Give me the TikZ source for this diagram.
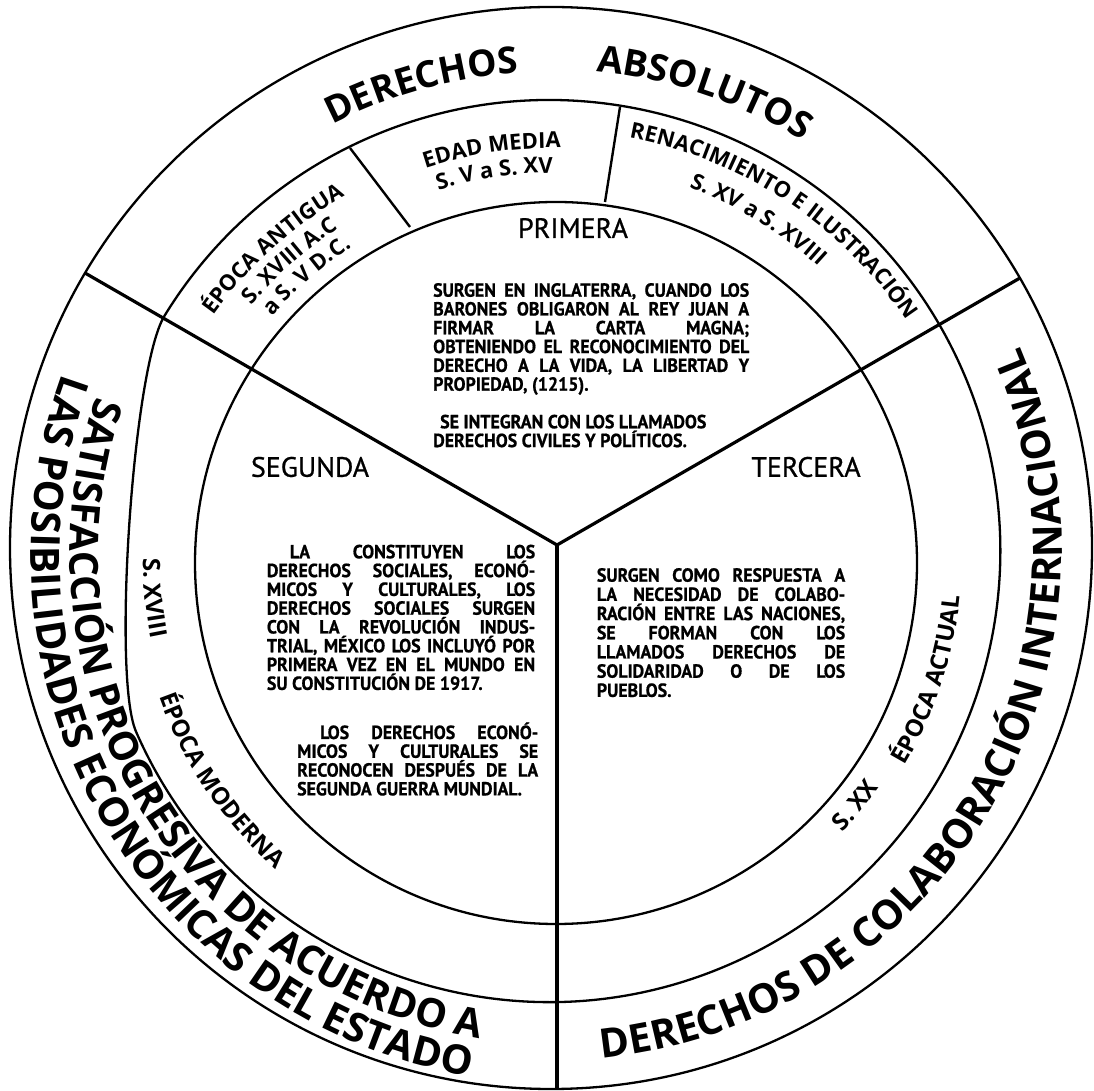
\documentclass[tikz,border=0pt]{standalone}
\usepackage{fontspec}
\setmainfont{PT Sans}
\newfontfamily\ringf{Open Sans}
\newfontfamily\bodyf{PT Sans}[FakeStretch=0.94, BoldFeatures={FakeBold=0.8}]
\newfontfamily\labf{PT Sans}[FakeBold=0.8]
\usetikzlibrary{decorations.text}
\newcommand\ringtop{\ringf\bfseries\fontsize{37}{37}\selectfont}
\newcommand\ringbig{\ringf\bfseries\fontsize{40.5}{40.5}\selectfont}
\newcommand\ringmid{\ringf\bfseries\fontsize{40}{40}\selectfont}
\newcommand\erab{\ringf\bfseries\fontsize{22}{22}\selectfont}
\newcommand\erar{\ringf\bfseries\fontsize{24}{24}\selectfont}
\newcommand\JL[1]{\makebox[\linewidth][s]{#1}\par}
\tikzset{
  circ/.style={line width=2.3pt},
  yline/.style={line width=3.2pt},
  divline/.style={line width=2.4pt},
  toptext/.style={decorate, decoration={text along path, text align=center, text={|\ringtop|#1}}},
  bigtext/.style={decorate, decoration={text along path, text align=center, text={|\ringbig|#1}}},
  midtext/.style={decorate, decoration={text along path, text align=center, text={|\ringmid|#1}}},
  erabtext/.style={decorate, decoration={text along path, text align=center, text={|\erab|#1}}},
  erartext/.style={decorate, decoration={text along path, text align=center, text={|\erar|#1}}},
  lab/.style={inner sep=0, font=\labf\fontsize{28}{28}\selectfont},
  body/.style={inner sep=0, anchor=base west, font=\bodyf\bfseries\fontsize{19}{18.8}\selectfont},
}
\begin{document}
\begin{tikzpicture}[x=1pt,y=1pt]
\fill[white] (0,0) rectangle (1094,1090);
\useasboundingbox (0,0) rectangle (1094,1090);
% centres
\coordinate (O) at (551,542);
\coordinate (M) at (549,539);
\coordinate (I) at (556,527);
\coordinate (C) at (550,541);
\coordinate (CL) at (560,535);
\coordinate (E) at (552,533);
\coordinate (J) at (557,545);
\coordinate (Lend) at (85,817);
\coordinate (Rend) at (1020,812);
\coordinate (Bend) at (557,1);
\coordinate (d1a) at (350,942);
\coordinate (d1b) at (410,863);
\coordinate (d2a) at (620,983);
\coordinate (d2b) at (605,888);
\coordinate (m1) at (136.0,358.4);
% circles
\draw[circ] (O) circle[radius=541];
\draw[circ] (m1) arc[start angle=203.6, end angle=508.6, radius=451]
  .. controls +(238.5:60) and +(113.6:60) .. (m1);
\draw[circ] (I) circle[radius=361];
% Y lines
\draw[yline] (J) -- (Lend);
\draw[yline] (J) -- (Rend);
\draw[yline] (J) -- (Bend);
% era dividers
\draw[divline] (d1a) -- (d1b);
\draw[divline] (d2a) -- (d2b);
% outer ring texts
\path[toptext=DERECHOS] (C) ++(125.45:477) arc[start angle=125.45, end angle=85.45, radius=477];
\path[toptext=ABSOLUTOS] (C) ++(91.35:480) arc[start angle=91.35, end angle=51.35, radius=480];
\path[midtext={SATISFACCIÓN PROGRESIVA DE ACUERDO A}] (CL) ++(140.85:490) arc[start angle=140.85, end angle=280.85, radius=490];
\path[bigtext={LAS POSIBILIDADES ECONÓMICAS DEL ESTADO}] (CL) ++(140.05:529) arc[start angle=140.05, end angle=280.05, radius=529];
\path[bigtext={DERECHOS DE COLABORACIÓN INTERNACIONAL}] (C) ++(-100.45:512) arc[start angle=-100.45, end angle=39.55, radius=512];
% era ring texts
\path[erabtext={ÉPOCA ANTIGUA}] (E) ++(157.2:416) arc[start angle=157.2, end angle=107.2, radius=416];
\path[erabtext={S. XVIII A.C}] (E) ++(156.55:392) arc[start angle=156.55, end angle=106.55, radius=392];
\path[erabtext={a S. V D.C.}] (E) ++(156.1:369) arc[start angle=156.1, end angle=106.1, radius=369];
\path[erabtext={EDAD MEDIA}] (E) ++(123.4:409) arc[start angle=123.4, end angle=73.4, radius=409];
\path[erabtext={S. V a S. XV}] (E) ++(123.55:384) arc[start angle=123.55, end angle=73.55, radius=384];
\path[erabtext={RENACIMIENTO E ILUSTRACIÓN}] (E) ++(91.65:426) arc[start angle=91.65, end angle=21.65, radius=426];
\path[erabtext={S. XV a S. XVIII}] (E) ++(83.55:394) arc[start angle=83.55, end angle=33.55, radius=394];
\path[erartext={S. XVIII}] (E) ++(165.9:409) arc[start angle=165.9, end angle=205.9, radius=409];
\path[erartext={ÉPOCA MODERNA}] (E) ++(184.05:417) arc[start angle=184.05, end angle=244.05, radius=417];
\path[erartext={S. XX}] (E) ++(-59.3:400) arc[start angle=-59.3, end angle=-19.3, radius=400];
\path[erartext={ÉPOCA ACTUAL}] (E) ++(-43.05:410) arc[start angle=-43.05, end angle=6.95, radius=410];
% sector labels
\node[lab] (prim) at (573,862) {PRIMERA};
\node[lab] (seg) at (310,623) {SEGUNDA};
\node[lab] (ter) at (806,623) {TERCERA};
% body texts
\node[body] (primtext) at (433,793.3) {\parbox[t]{316pt}{%
\JL{SURGEN EN INGLATERRA, CUANDO LOS}
\JL{BARONES OBLIGARON AL REY JUAN A}
\JL{FIRMAR LA CARTA MAGNA;}
\JL{OBTENIENDO EL RECONOCIMIENTO DEL}
\JL{DERECHO A LA VIDA, LA LIBERTAD Y}
PROPIEDAD, (1215).\par
\mbox{}\par
\hspace*{7pt}SE INTEGRAN CON LOS LLAMADOS\par
DERECHOS CIVILES Y POLÍTICOS.\par}};
\node[body] (segtext) at (266.7,531.7) {\parbox[t]{268.3pt}{%
\JL{\hspace*{23pt}LA CONSTITUYEN LOS}
\JL{DERECHOS SOCIALES, ECONÓ-}
\JL{MICOS Y CULTURALES, LOS}
\JL{DERECHOS SOCIALES SURGEN}
\JL{CON LA REVOLUCIÓN INDUS-}
\JL{TRIAL, MÉXICO LOS INCLUYÓ POR}
\JL{PRIMERA VEZ EN EL MUNDO EN}
SU CONSTITUCIÓN DE 1917.\par}};
\node[body] (segtext2) at (297,351) {\parbox[t]{241pt}{%
\JL{\hspace*{23pt}LOS DERECHOS ECONÓ-}
\JL{MICOS Y CULTURALES SE}
\JL{RECONOCEN DESPUÉS DE LA}
SEGUNDA GUERRA MUNDIAL.\par}};
\node[body, font=\bodyf\bfseries\fontsize{19}{19.2}\selectfont] (tertext) at (596.7,508.3) {\parbox[t]{248.3pt}{%
\JL{SURGEN COMO RESPUESTA A}
\JL{LA NECESIDAD DE COLABO-}
\JL{RACIÓN ENTRE LAS NACIONES,}
\JL{SE FORMAN CON LOS}
\JL{LLAMADOS DERECHOS DE}
\JL{SOLIDARIDAD O DE LOS}
PUEBLOS.\par}};
\end{tikzpicture}
\end{document}
